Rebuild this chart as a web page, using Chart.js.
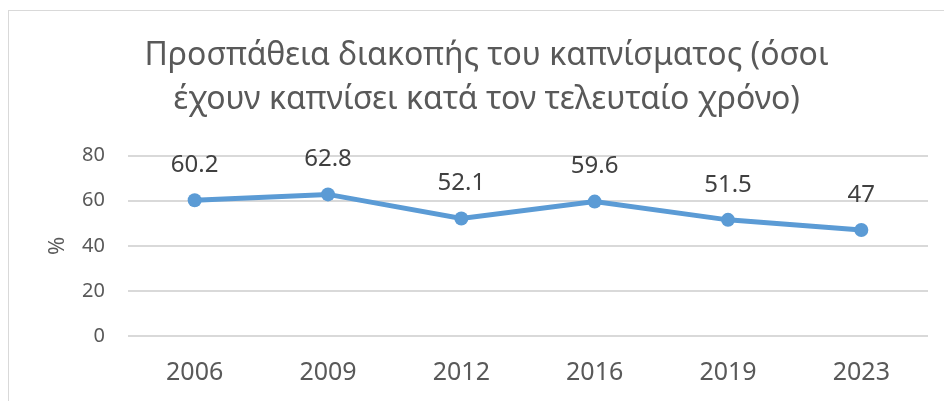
<!DOCTYPE html>
<html>
<head>
<meta charset="utf-8">
<script src="https://cdn.jsdelivr.net/npm/chart.js@4/dist/chart.umd.min.js"></script>
<style>
  html, body { margin: 0; padding: 0; background: #ffffff; }
  #wrap { position: relative; width: 944px; height: 401px; overflow: hidden; }
  #frame { position: absolute; left: 8px; top: 10px; width: 960px; height: 420px; border: 1px solid #d9d9d9; }
  canvas { position: absolute; left: 0; top: 0; }
</style>
</head>
<body>
<div id="wrap">
  <div id="frame"></div>
  <canvas id="chart" width="944" height="401"></canvas>
</div>
<script>
'use strict';

// Chart data
const years = ['2006', '2009', '2012', '2016', '2019', '2023'];
const quitAttempts = [60.2, 62.8, 52.1, 59.6, 51.5, 47];
const yTicks = [0, 20, 40, 60, 80];

const textColor = '#595959';
const lineColor = '#5b9bd5';
const fontFamily = "'Noto Sans', 'Open Sans', sans-serif";

// Value labels above points
const valueLabels = {
    id: 'valueLabels',
    afterDatasetsDraw(chart) {
        const ctx = chart.ctx;
        const meta = chart.getDatasetMeta(0);
        ctx.save();
        ctx.font = '24px ' + fontFamily;
        ctx.fillStyle = '#404040';
        ctx.textAlign = 'center';
        ctx.textBaseline = 'middle';
        meta.data.forEach((pt, i) => {
            ctx.fillText(String(quitAttempts[i]), pt.x, pt.y - 35);
        });
        ctx.restore();
    }
};

new Chart(document.getElementById('chart').getContext('2d'), {
    type: 'line',
    data: {
        labels: years,
        datasets: [{
            data: quitAttempts,
            borderColor: lineColor,
            backgroundColor: lineColor,
            borderWidth: 5,
            pointRadius: 7,
            pointHoverRadius: 7,
            pointBackgroundColor: lineColor,
            pointBorderWidth: 0,
            tension: 0
        }]
    },
    options: {
        responsive: false,
        animation: false,
        layout: {
            padding: { left: 45, right: 16, top: 0, bottom: 0 }
        },
        plugins: {
            legend: { display: false },
            tooltip: { enabled: false },
            title: {
                display: true,
                text: ['Προσπάθεια διακοπής του καπνίσματος (όσοι', 'έχουν καπνίσει κατά τον τελευταίο χρόνο)'],
                color: textColor,
                font: { family: fontFamily, size: 32, weight: 'normal', lineHeight: 1.4 },
                padding: { top: 33, bottom: 33 }
            }
        },
        scales: {
            x: {
                offset: true,
                grid: { display: false, drawTicks: false },
                border: { display: false },
                afterFit(scale) {
                    scale.height = 65;
                },
                ticks: {
                    color: textColor,
                    font: { family: fontFamily, size: 25 },
                    padding: 22
                }
            },
            y: {
                min: 0,
                max: 80,
                afterBuildTicks(axis) {
                    axis.ticks = yTicks.map(v => ({ value: v }));
                },
                afterFit(scale) {
                    scale.width = 83;
                },
                grid: { color: '#d9d9d9', lineWidth: 2, drawTicks: false },
                border: { display: false },
                title: {
                    display: true,
                    text: '%',
                    color: textColor,
                    font: { family: fontFamily, size: 22 },
                    padding: { top: 0, bottom: 0 }
                },
                ticks: {
                    color: textColor,
                    font: { family: fontFamily, size: 20 },
                    padding: 23
                }
            }
        }
    },
    plugins: [valueLabels]
});
</script>
</body>
</html>
